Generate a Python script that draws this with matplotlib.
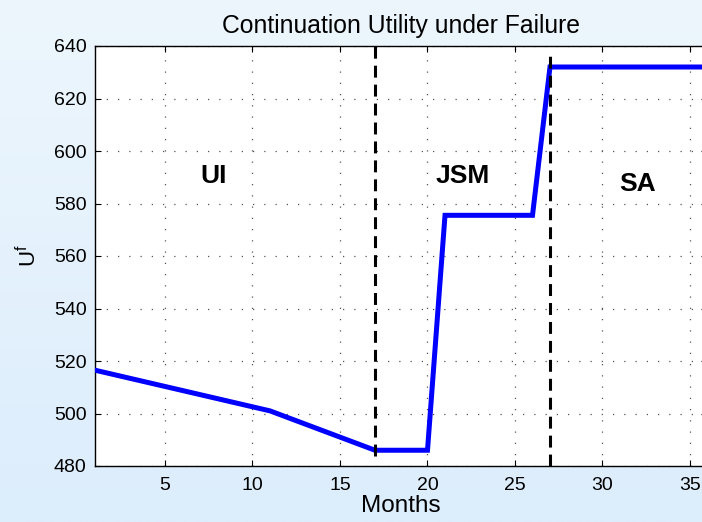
import numpy as np
import matplotlib
matplotlib.use("Agg")
import matplotlib.pyplot as plt

# Continuation utility under failure
months = [1, 11, 17, 20, 21, 26, 27, 36]
utility = [516.5, 501, 486, 486, 575.5, 575.5, 632, 632]

# regime boundaries and labels
bound_x = [17, 27]
bound_lo = [484, 480]
bound_hi = [640, 638]
regime_names = ['UI', 'JSM', 'SA']
regime_x = [7.8, 22.0, 32.0]
regime_y = [590.5, 590.5, 587.5]

xticks = [5, 10, 15, 20, 25, 30, 35]
yticks = [480, 500, 520, 540, 560, 580, 600, 620, 640]

plt.rcParams['font.family'] = ['Liberation Sans', 'DejaVu Sans']
plt.rcParams['mathtext.fontset'] = 'custom'
plt.rcParams['mathtext.rm'] = 'Liberation Sans'
plt.rcParams['mathtext.it'] = 'Liberation Sans'

fig = plt.figure(figsize=(7.02, 5.22), dpi=100)

# light blue gradient background
bg = fig.add_axes([0, 0, 1, 1])
grad = np.linspace(0, 1, 256).reshape(-1, 1)
cmap = matplotlib.colors.LinearSegmentedColormap.from_list('bg', ['#edf6fd', '#dcedfc'])
bg.imshow(grad, aspect='auto', cmap=cmap, extent=[0, 1, 0, 1])
bg.axis('off')

ax = fig.add_axes([95 / 702, 56 / 522, 612.5 / 702, 420 / 522])
ax.set_facecolor('white')

ax.plot(months, utility, color='#0000ff', linewidth=3.6, solid_joinstyle='miter', zorder=3)
for bx, lo, hi in zip(bound_x, bound_lo, bound_hi):
    ax.plot([bx, bx], [lo, hi], color='black', linewidth=2.2, dashes=(3.9, 2.3), zorder=4)
for name, tx, ty in zip(regime_names, regime_x, regime_y):
    ax.text(tx, ty, name, fontsize=19, fontweight='bold', ha='center', va='center')

ax.set_xlim(1, 36)
ax.set_ylim(480, 640)
ax.set_xticks(xticks)
ax.set_yticks(yticks)
ax.tick_params(direction='in', top=True, right=True, labelsize=14, length=4, width=0.8)
ax.tick_params(axis='x', pad=8)
ax.tick_params(axis='y', pad=6)
ax.grid(True, color='#555555', linestyle=(0, (1, 8)), linewidth=0.9)
for s in ax.spines.values():
    s.set_linewidth(1.0)

ax.set_title('Continuation Utility under Failure', fontsize=17.8, pad=9)
ax.set_xlabel('Months', fontsize=17.5, labelpad=1)
ax.set_ylabel('U$^{f}$', fontsize=16, labelpad=9)

fig.savefig('out.png', dpi=100)
